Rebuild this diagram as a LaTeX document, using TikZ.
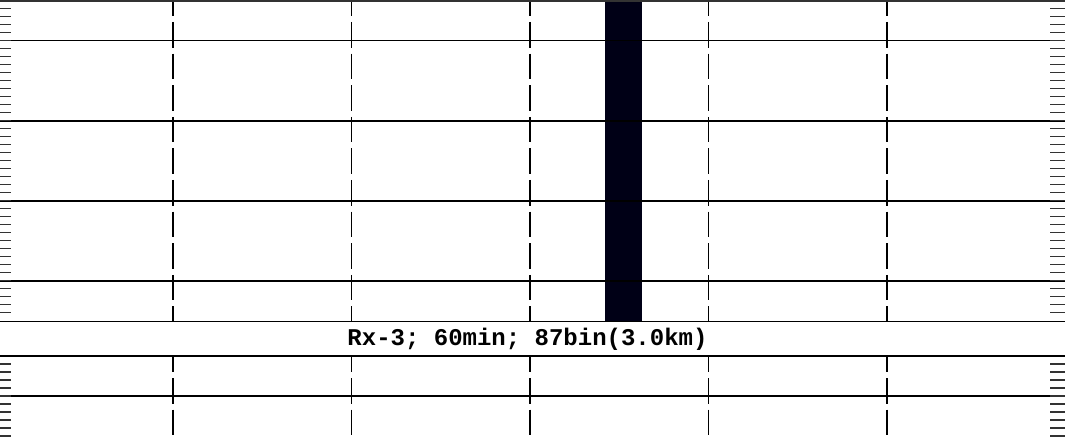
\documentclass[tikz,border=0pt]{standalone}
\usepackage{fontspec}
\newfontfamily\monob{Liberation Mono}
\definecolor{barnavy}{RGB}{0,0,22}
\begin{document}
\begin{tikzpicture}[x=1pt,y=-1pt,
  gridline/.style={black,line width=1.3pt},
  vdash/.style={black,line width=1.3pt,dash pattern=on 25.6pt off 6pt,dash phase=9.6pt},
  tickmark/.style={black!80,line width=1.4pt},
  topline/.style={black!80,line width=2pt},
  bar/.style={fill=barnavy,draw=none},
  caption/.style={font=\monob\bfseries\fontsize{24}{28}\selectfont,inner sep=0pt,anchor=base}]
\useasboundingbox[fill=white] (0,0) rectangle (1065,438);
% dark bar
\fill[bar] (605,0) rectangle (642,321.3);
% vertical dashed lines
\foreach \x in {173,351.5,530,708.5,887}{
  \draw[vdash] (\x,0) -- (\x,321.3);
  \draw[vdash] (\x,356) -- (\x,438);
}
% horizontal grid lines upper panel
\foreach \y in {40.7,121,201,281,321.3}{
  \draw[gridline] (0,\y) -- (1065,\y);
}
% lower panel lines
\foreach \y in {356,396}{
  \draw[gridline] (0,\y) -- (1065,\y);
}
\draw[topline] (0,1) -- (1065,1);
% ticks upper panel
\foreach \k in {1,...,39}{
  \draw[tickmark] (0,8*\k+0.5) -- (11,8*\k+0.5);
  \draw[tickmark] (1050,8*\k+0.5) -- (1065,8*\k+0.5);
}
% ticks lower panel
\foreach \k in {1,...,10}{
  \draw[tickmark] (0,356+8*\k) -- (11,356+8*\k);
  \draw[tickmark] (1050,356+8*\k) -- (1065,356+8*\k);
}
\node[caption] (cap) at (527.5,345) {Rx-3; 60min; 87bin(3.0km)};
\end{tikzpicture}
\end{document}
